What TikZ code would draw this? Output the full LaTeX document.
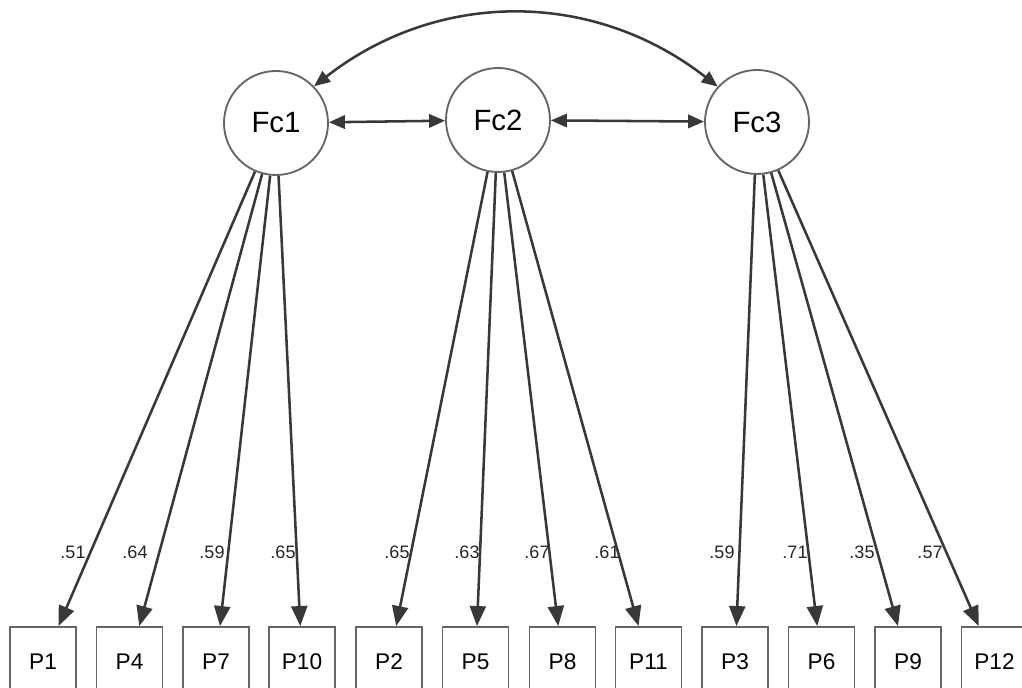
\documentclass[tikz,border=0pt]{standalone}
\usepackage{fontspec}
\setmainfont{Liberation Sans}
\usetikzlibrary{arrows.meta}
\definecolor{ink}{HTML}{383838}
\definecolor{rim}{HTML}{666666}
\tikzset{
  factor/.style={circle, draw=rim, line width=1.4pt, minimum size=78pt, inner sep=0pt, font=\fontsize{22}{26}\selectfont},
  item/.style={rectangle, draw=rim, line width=1.4pt, minimum width=49.5pt, minimum height=52.5pt, inner sep=0pt, font=\fontsize{17}{20}\selectfont},
  load/.style={draw=ink, line width=1.9pt, -{Triangle[length=15pt,width=12pt]}},
  covar/.style={draw=ink, line width=1.9pt, {Triangle[length=12pt,width=10pt]}-{Triangle[length=12pt,width=10pt]}},
  lab/.style={text=black!85, font=\fontsize{13.5}{16}\selectfont},
}
\begin{document}
\begin{tikzpicture}[x=0.75pt,y=0.75pt]
\useasboundingbox (0,0) rectangle (1022,688);
% latent factors
\node[factor] (Fc1) at (276,565) {Fc1};
\node[factor] (Fc2) at (498,568) {Fc2};
\node[factor] (Fc3) at (757,566) {Fc3};

% covariances
\draw[covar] (Fc1) -- (Fc2);
\draw[covar] (Fc2) -- (Fc3);
\draw[covar] (Fc1.44) to[out=38,in=142] (Fc3.138);

% observed items
\foreach \name/\x in {P1/43, P4/129.5, P7/216, P10/302, P2/389, P5/475.5,
    P8/562.5, P11/648.5, P3/735, P6/821.5, P9/908, P12/994.5}
  \node[item] (\name) at (\x,26) {\name};

% loadings
\foreach \f/\p/\v/\lx in {Fc1/P1/.51/73, Fc1/P4/.64/135, Fc1/P7/.59/212, Fc1/P10/.65/283,
    Fc2/P2/.65/397, Fc2/P5/.63/467, Fc2/P8/.67/537, Fc2/P11/.61/607,
    Fc3/P3/.59/722, Fc3/P6/.71/795, Fc3/P9/.35/862, Fc3/P12/.57/930} {
  \draw[load] (\f) -- (\p);
  \node[lab] (l\p) at (\lx,136) {\v};
}
\end{tikzpicture}
\end{document}
